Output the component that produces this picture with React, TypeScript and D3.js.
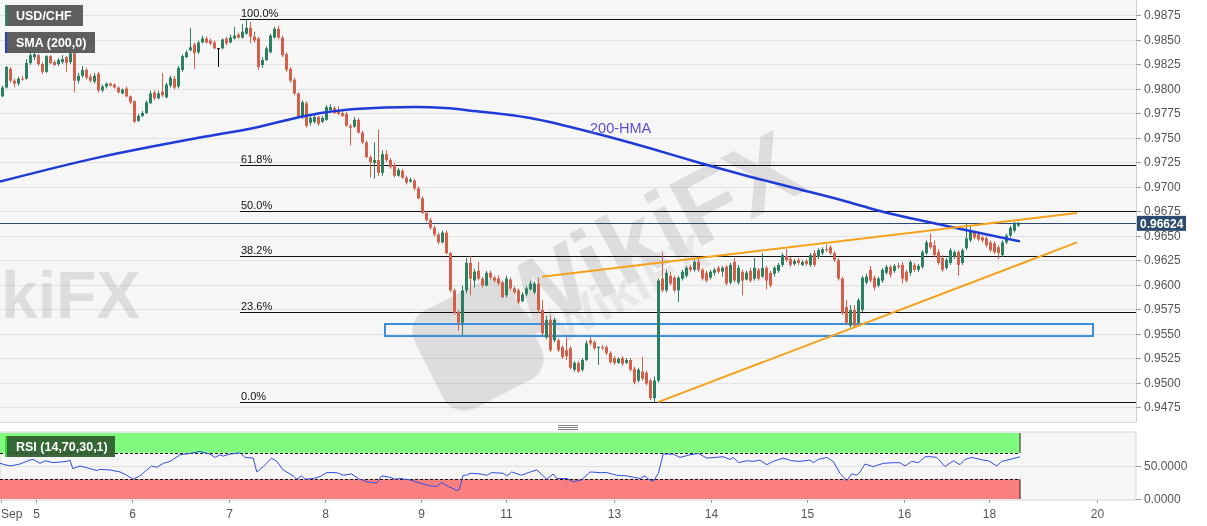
import React from "react";
import * as d3 from "d3";

// Hourly USD/CHF candles: [open, high, low, close]
const ohlc: number[][] = [
  [0.9792,0.9803,0.9791,0.9801],[0.9801,0.9823,0.9800,0.9822],[0.9820,0.9822,0.9806,0.9808],[0.9808,0.9810,0.9801,0.9805],
  [0.9805,0.9812,0.9803,0.9810],[0.9810,0.9813,0.9808,0.9809],[0.9810,0.9830,0.9809,0.9826],[0.9826,0.9836,0.9824,0.9834],
  [0.9832,0.9837,0.9829,0.9835],[0.9834,0.9835,0.9823,0.9825],[0.9825,0.9827,0.9815,0.9817],[0.9817,0.9834,0.9816,0.9833],
  [0.9833,0.9834,0.9825,0.9826],[0.9827,0.9829,0.9823,0.9824],[0.9825,0.9831,0.9823,0.9829],[0.9827,0.9834,0.9825,0.9830],
  [0.9832,0.9833,0.9817,0.9826],[0.9827,0.9839,0.9825,0.9836],[0.9836,0.9838,0.9796,0.9808],[0.9808,0.9816,0.9805,0.9813],
  [0.9813,0.9823,0.9811,0.9819],[0.9819,0.9821,0.9809,0.9811],[0.9812,0.9815,0.9806,0.9808],[0.9807,0.9816,0.9805,0.9813],
  [0.9815,0.9817,0.9796,0.9798],[0.9798,0.9804,0.9796,0.9802],[0.9802,0.9806,0.9800,0.9805],[0.9805,0.9806,0.9802,0.9803],
  [0.9804,0.9805,0.9800,0.9801],[0.9801,0.9802,0.9795,0.9796],[0.9795,0.9800,0.9794,0.9799],[0.9800,0.9802,0.9791,0.9792],
  [0.9792,0.9793,0.9784,0.9786],[0.9787,0.9788,0.9765,0.9766],[0.9767,0.9774,0.9766,0.9772],[0.9772,0.9777,0.9771,0.9775],
  [0.9775,0.9788,0.9774,0.9786],[0.9785,0.9798,0.9784,0.9795],[0.9796,0.9798,0.9788,0.9790],[0.9790,0.9798,0.9789,0.9795],
  [0.9797,0.9816,0.9791,0.9793],[0.9791,0.9806,0.9790,0.9804],[0.9803,0.9813,0.9801,0.9811],[0.9810,0.9813,0.9799,0.9801],
  [0.9802,0.9823,0.9800,0.9821],[0.9819,0.9835,0.9817,0.9833],[0.9832,0.9839,0.9831,0.9837],[0.9839,0.9862,0.9838,0.9842],
  [0.9845,0.9847,0.9820,0.9836],[0.9837,0.9849,0.9835,0.9847],[0.9847,0.9854,0.9846,0.9851],[0.9851,0.9853,0.9846,0.9847],
  [0.9849,0.9851,0.9844,0.9846],[0.9847,0.9849,0.9840,0.9841],[0.9841,0.9841,0.9822,0.9841],[0.9841,0.9851,0.9840,0.9850],
  [0.9851,0.9853,0.9844,0.9846],[0.9847,0.9855,0.9846,0.9852],[0.9851,0.9863,0.9850,0.9854],[0.9855,0.9857,0.9851,0.9852],
  [0.9852,0.9866,0.9851,0.9858],[0.9856,0.9871,0.9855,0.9862],[0.9862,0.9868,0.9846,0.9853],[0.9853,0.9858,0.9847,0.9849],
  [0.9851,0.9853,0.9819,0.9822],[0.9824,0.9832,0.9821,0.9829],[0.9829,0.9843,0.9828,0.9841],[0.9837,0.9856,0.9836,0.9854],
  [0.9852,0.9863,0.9851,0.9861],[0.9861,0.9864,0.9850,0.9852],[0.9852,0.9854,0.9832,0.9834],[0.9835,0.9837,0.9817,0.9819],
  [0.9820,0.9822,0.9806,0.9808],[0.9809,0.9811,0.9793,0.9795],[0.9795,0.9796,0.9770,0.9771],[0.9771,0.9788,0.9769,0.9786],
  [0.9785,0.9787,0.9760,0.9762],[0.9765,0.9772,0.9762,0.9770],[0.9766,0.9773,0.9764,0.9771],[0.9771,0.9772,0.9762,0.9764],
  [0.9766,0.9772,0.9765,0.9770],[0.9768,0.9783,0.9767,0.9781],[0.9778,0.9784,0.9776,0.9781],[0.9780,0.9782,0.9774,0.9775],
  [0.9778,0.9782,0.9773,0.9774],[0.9775,0.9777,0.9771,0.9772],[0.9774,0.9776,0.9761,0.9762],[0.9762,0.9764,0.9742,0.9760],
  [0.9761,0.9771,0.9760,0.9768],[0.9768,0.9770,0.9754,0.9755],[0.9755,0.9757,0.9743,0.9745],[0.9745,0.9747,0.9729,0.9730],
  [0.9730,0.9732,0.9709,0.9725],[0.9724,0.9745,0.9708,0.9727],[0.9727,0.9758,0.9711,0.9714],[0.9714,0.9737,0.9711,0.9733],
  [0.9733,0.9737,0.9725,0.9727],[0.9727,0.9729,0.9718,0.9720],[0.9722,0.9724,0.9709,0.9711],[0.9711,0.9719,0.9710,0.9717],
  [0.9716,0.9718,0.9708,0.9709],[0.9709,0.9711,0.9702,0.9704],[0.9705,0.9709,0.9704,0.9707],[0.9706,0.9708,0.9696,0.9698],
  [0.9698,0.9700,0.9687,0.9688],[0.9688,0.9690,0.9672,0.9673],[0.9673,0.9675,0.9664,0.9666],[0.9666,0.9668,0.9656,0.9658],
  [0.9658,0.9660,0.9649,0.9651],[0.9651,0.9653,0.9641,0.9643],[0.9643,0.9655,0.9642,0.9653],[0.9653,0.9655,0.9631,0.9632],
  [0.9632,0.9633,0.9592,0.9594],[0.9594,0.9596,0.9569,0.9571],[0.9572,0.9574,0.9553,0.9561],[0.9561,0.9599,0.9548,0.9594],
  [0.9594,0.9627,0.9591,0.9622],[0.9622,0.9629,0.9589,0.9606],[0.9604,0.9616,0.9597,0.9613],[0.9614,0.9623,0.9604,0.9606],
  [0.9606,0.9608,0.9597,0.9599],[0.9599,0.9614,0.9598,0.9612],[0.9612,0.9614,0.9605,0.9607],[0.9607,0.9609,0.9602,0.9604],
  [0.9606,0.9609,0.9599,0.9601],[0.9602,0.9604,0.9586,0.9587],[0.9589,0.9609,0.9587,0.9606],[0.9605,0.9607,0.9594,0.9596],
  [0.9596,0.9598,0.9590,0.9592],[0.9594,0.9596,0.9580,0.9582],[0.9583,0.9592,0.9582,0.9590],[0.9590,0.9598,0.9588,0.9596],
  [0.9595,0.9604,0.9594,0.9601],[0.9592,0.9603,0.9590,0.9601],[0.9601,0.9607,0.9571,0.9574],[0.9574,0.9584,0.9548,0.9550],
  [0.9546,0.9568,0.9544,0.9564],[0.9564,0.9569,0.9531,0.9533],[0.9543,0.9566,0.9541,0.9564],[0.9543,0.9545,0.9531,0.9533],
  [0.9536,0.9538,0.9524,0.9526],[0.9533,0.9546,0.9523,0.9527],[0.9535,0.9537,0.9513,0.9515],[0.9513,0.9522,0.9511,0.9520],
  [0.9520,0.9522,0.9510,0.9511],[0.9513,0.9525,0.9511,0.9523],[0.9523,0.9543,0.9522,0.9540],[0.9543,0.9546,0.9538,0.9540],
  [0.9541,0.9543,0.9533,0.9535],[0.9535,0.9537,0.9518,0.9536],[0.9536,0.9538,0.9533,0.9535],[0.9536,0.9538,0.9528,0.9530],
  [0.9530,0.9532,0.9519,0.9521],[0.9525,0.9527,0.9518,0.9520],[0.9520,0.9526,0.9519,0.9524],[0.9525,0.9527,0.9517,0.9519],
  [0.9520,0.9525,0.9519,0.9523],[0.9523,0.9525,0.9511,0.9513],[0.9514,0.9516,0.9498,0.9500],[0.9502,0.9515,0.9500,0.9513],
  [0.9511,0.9526,0.9502,0.9504],[0.9510,0.9512,0.9497,0.9499],[0.9502,0.9504,0.9482,0.9484],[0.9484,0.9506,0.9480,0.9502],
  [0.9502,0.9606,0.9500,0.9604],[0.9606,0.9633,0.9592,0.9594],[0.9594,0.9615,0.9592,0.9612],[0.9609,0.9613,0.9599,0.9601],
  [0.9607,0.9609,0.9592,0.9594],[0.9594,0.9609,0.9582,0.9607],[0.9606,0.9615,0.9604,0.9613],[0.9609,0.9619,0.9607,0.9617],
  [0.9618,0.9620,0.9613,0.9615],[0.9615,0.9625,0.9613,0.9623],[0.9623,0.9627,0.9613,0.9615],[0.9615,0.9617,0.9604,0.9606],
  [0.9612,0.9614,0.9602,0.9604],[0.9607,0.9615,0.9605,0.9613],[0.9612,0.9617,0.9609,0.9615],[0.9617,0.9619,0.9611,0.9613],
  [0.9613,0.9619,0.9608,0.9617],[0.9618,0.9620,0.9599,0.9601],[0.9602,0.9622,0.9600,0.9620],[0.9623,0.9627,0.9602,0.9604],
  [0.9602,0.9620,0.9600,0.9617],[0.9613,0.9615,0.9589,0.9604],[0.9605,0.9614,0.9604,0.9612],[0.9614,0.9617,0.9602,0.9604],
  [0.9606,0.9627,0.9604,0.9617],[0.9615,0.9617,0.9604,0.9606],[0.9608,0.9632,0.9607,0.9617],[0.9617,0.9619,0.9595,0.9604],
  [0.9612,0.9614,0.9597,0.9599],[0.9611,0.9619,0.9608,0.9617],[0.9614,0.9622,0.9612,0.9620],[0.9620,0.9632,0.9618,0.9630],
  [0.9629,0.9636,0.9623,0.9625],[0.9626,0.9628,0.9618,0.9620],[0.9621,0.9626,0.9619,0.9624],[0.9625,0.9627,0.9620,0.9622],
  [0.9620,0.9625,0.9619,0.9623],[0.9624,0.9626,0.9619,0.9621],[0.9620,0.9632,0.9618,0.9630],[0.9632,0.9635,0.9618,0.9620],
  [0.9628,0.9637,0.9626,0.9635],[0.9632,0.9638,0.9630,0.9636],[0.9636,0.9641,0.9633,0.9635],[0.9638,0.9640,0.9630,0.9632],
  [0.9632,0.9634,0.9623,0.9625],[0.9625,0.9627,0.9604,0.9606],[0.9606,0.9608,0.9569,0.9571],[0.9577,0.9584,0.9559,0.9561],
  [0.9558,0.9579,0.9556,0.9574],[0.9574,0.9579,0.9556,0.9558],[0.9561,0.9586,0.9558,0.9584],[0.9574,0.9609,0.9572,0.9607],
  [0.9602,0.9611,0.9600,0.9608],[0.9615,0.9619,0.9602,0.9604],[0.9607,0.9609,0.9594,0.9597],[0.9599,0.9608,0.9597,0.9606],
  [0.9604,0.9617,0.9602,0.9615],[0.9612,0.9620,0.9610,0.9618],[0.9618,0.9620,0.9607,0.9610],[0.9614,0.9621,0.9612,0.9619],
  [0.9619,0.9622,0.9616,0.9618],[0.9620,0.9623,0.9601,0.9606],[0.9613,0.9615,0.9602,0.9604],[0.9612,0.9625,0.9609,0.9623],
  [0.9620,0.9622,0.9613,0.9615],[0.9615,0.9621,0.9613,0.9619],[0.9618,0.9635,0.9616,0.9633],[0.9632,0.9645,0.9630,0.9643],
  [0.9643,0.9652,0.9636,0.9638],[0.9640,0.9645,0.9628,0.9630],[0.9633,0.9636,0.9620,0.9622],[0.9627,0.9630,0.9613,0.9615],
  [0.9617,0.9627,0.9615,0.9625],[0.9622,0.9637,0.9620,0.9635],[0.9628,0.9635,0.9626,0.9633],[0.9633,0.9635,0.9609,0.9620],
  [0.9622,0.9637,0.9620,0.9635],[0.9637,0.9663,0.9635,0.9647],[0.9645,0.9659,0.9643,0.9655],[0.9653,0.9655,0.9646,0.9648],
  [0.9651,0.9653,0.9644,0.9646],[0.9648,0.9650,0.9643,0.9645],[0.9647,0.9649,0.9638,0.9640],[0.9643,0.9645,0.9633,0.9635],
  [0.9642,0.9644,0.9631,0.9633],[0.9638,0.9640,0.9626,0.9632],[0.9630,0.9645,0.9628,0.9643],[0.9643,0.9652,0.9641,0.9650],
  [0.9650,0.9660,0.9648,0.9658],[0.9655,0.9664,0.9653,0.9662],[0.9660,0.9664,0.9659,0.9662],
];

// 200-HMA line: [candle index, price]
const hmaPoints: number[][] = [
  [-0.5,0.9705],[24.5,0.9730],[49.5,0.9750],[63.25,0.9760],[75.75,0.9772],[88.25,0.9779],[103.25,0.9781],
  [110.75,0.9780],[118.25,0.9777],[132,0.9770],[149.5,0.9753],[162,0.9739],[174.5,0.9724],[187,0.9710],
  [199.5,0.9697],[210,0.9686],[219.5,0.9675],[237,0.9659],[254.5,0.9644],
];

// RSI(14): [candle index, value]
const rsiPoints: number[][] = [
  [-0.5,54],[2,50],[4.5,53],[7,59],[7.8,60],[9.5,54],[10.8,58],[12.8,55],[16.2,57],[17,59],[17.7,46],[19.5,50],
  [22,46],[23.7,43],[24.5,45],[27,44],[29.5,41],[31.2,36],[32.8,30],[34.5,35],[36.2,44],[37.4,50],[38.7,48],
  [40.3,54],[42,57],[42.8,60],[44.5,67],[47,69],[49.5,72],[52,68],[53.3,63],[54.5,67],[55.3,65],[57,68],
  [59.5,70],[60.8,63],[62.8,62],[63.7,41],[65.3,49],[67.4,62],[68.7,57],[70.3,44],[72.8,35],[73.7,30],[74.9,35],
  [75.8,30],[77.8,31],[79.5,34],[81.2,40],[83.7,40],[85.3,36],[87.4,38],[89.1,31],[91.2,26],[93.7,24],[94.9,35],
  [97,33],[98.3,30],[99.5,31],[102,29],[104.5,24],[107,20],[108.7,19],[109.9,25],[111.6,19],[113.7,13],[114.3,14],
  [115.3,36],[116.2,36],[117,39],[119.5,38],[121.2,36],[122.4,40],[125.3,39],[126.2,35],[127.4,41],[129.9,36],
  [131.6,40],[133.7,44],[136.2,30],[137.8,38],[138.7,31],[141.2,31],[142.8,26],[144.9,29],[147,41],[149.5,40],
  [151.2,40],[153.7,36],[156.2,35],[157.8,33],[159.5,31],[160.8,35],[161.6,30],[162.8,27],[164.1,39],[165.3,68],
  [167.8,68],[169.5,63],[172,67],[174.1,69],[176.2,62],[180.3,64],[182,60],[182.8,63],[184.1,55],[186.2,58],
  [187.8,57],[189.5,59],[191.2,52],[192.8,57],[195.3,62],[197.4,58],[199.5,57],[202,59],[202.8,55],[204.1,60],
  [206.2,63],[207.8,57],[209.5,39],[211.2,28],[212.4,38],[213.7,36],[214.5,41],[215.75,53],[217.8,49],[220.3,54],
  [222.8,55],[224.5,55],[225.75,50],[227.4,57],[229.1,55],[230.75,64],[232.4,64],[233.7,63],[235.75,49],
  [237.8,58],[239.5,52],[240.75,60],[242.4,63],[245.3,59],[246.6,58],[248.7,50],[249.9,57],[252,60],[254.5,64],
];

const priceTicks = [0.9475,0.95,0.9525,0.955,0.9575,0.96,0.9625,0.965,0.9675,0.97,0.9725,0.975,0.9775,0.98,0.9825,0.985,0.9875];
const rsiTicks = [0, 50];
const rsiLevels = [70, 30];
const dayLabels = ["Sep","5","6","7","8","9","11","13","14","15","16","18","20"];
const dayIndex = [-0.25,8.5,32.5,56.75,80.75,104.75,126,153,177.25,201.25,225.5,246.75,273.75];

const fibHigh = 0.98709;
const fibLow = 0.94801;
const fibStartIndex = 59.5;
const fibLevels = [1, 0.618, 0.5, 0.382, 0.236, 0];
const fibLabels = ["100.0%","61.8%","50.0%","38.2%","23.6%","0.0%"];

const upperTrend: number[][] = [[135,0.9608],[268.75,0.9673]];
const lowerTrend: number[][] = [[164,0.9480],[268.75,0.9643]];
const zoneIndex = [95.75, 272.75];
const zonePrice = [0.95474, 0.95597];
const lastPrice = 0.96624;

const W = 1207, H = 526;
const PR = 1136;           // plot right edge
const MAIN_B = 422;        // main panel bottom
const RSI_T = 432, RSI_B = 500;
const FONT = "Arial, 'Liberation Sans', Helvetica, sans-serif";
const GREEN = "#2b8062";
const RED = "#d4604b";

export default function App() {
  const x = d3.scaleLinear().domain([-0.5, 283.5]).range([0, PR]);
  const y = d3.scaleLinear().domain([0.9475, 0.9875]).range([407, 15]);
  const ry = d3.scaleLinear().domain([0, 100]).range([499, 433]);

  const hmaLine = d3.line<number[]>().x(d => x(d[0])).y(d => y(d[1])).curve(d3.curveMonotoneX);
  const rsiLine = d3.line<number[]>().x(d => x(d[0])).y(d => ry(d[1]));
  const trend = d3.line<number[]>().x(d => x(d[0])).y(d => y(d[1]));

  const lastIdx = ohlc.length - 1 + 0.5;
  const zoneEnd = x(lastIdx);

  return (
    <svg width={W} height={H} style={{ position: "absolute", left: 0, top: 0, background: "#fff" }} fontFamily={FONT}>
      <defs>
        <clipPath id="mainClip"><rect x={0} y={0} width={PR} height={MAIN_B} /></clipPath>
        <clipPath id="rsiClip"><rect x={0} y={RSI_T} width={PR} height={RSI_B - RSI_T} /></clipPath>
      </defs>

      {/* main panel background */}
      <rect x={0} y={0} width={PR} height={MAIN_B} fill="#f6f6f6" />
      {priceTicks.map(t => (
        <line key={t} x1={0} x2={PR} y1={Math.round(y(t)) + 0.5} y2={Math.round(y(t)) + 0.5} stroke="#e2e2e2" />
      ))}

      {/* watermark */}
      <g clipPath="url(#mainClip)" opacity={0.18} fill="#6f6f6f" fontWeight="bold">
        <rect x={-55} y={-55} width={110} height={110} rx={24} transform="translate(478,345) rotate(-27)" />
        <text transform="translate(515,345) rotate(-28)" fontSize={100}>WikiFX</text>
        <text transform="translate(560,345) rotate(-28)" fontSize={52} opacity={0.6}>WikiFX</text>
        <text x={1} y={318} fontSize={66}>kiFX</text>
      </g>

      <g clipPath="url(#mainClip)">
        {/* fibonacci */}
        {fibLevels.map((lv, k) => {
          const py = Math.round(y(fibLow + lv * (fibHigh - fibLow))) + 0.5;
          return (
            <g key={lv}>
              <line x1={x(fibStartIndex)} x2={PR} y1={py} y2={py} stroke="#111" strokeWidth={1} />
              <text x={x(fibStartIndex) + 1} y={py - 2.5} fontSize={11} fill="#111">{fibLabels[k]}</text>
            </g>
          );
        })}

        {/* current price line */}
        <line x1={0} x2={PR} y1={Math.round(y(lastPrice)) + 0.5} y2={Math.round(y(lastPrice)) + 0.5} stroke="#2c4a6e" />

        {/* support zone */}
        <rect x={x(zoneIndex[0])} y={y(zonePrice[1])} width={x(zoneIndex[1]) - x(zoneIndex[0])}
          height={y(zonePrice[0]) - y(zonePrice[1])} fill="none" stroke="#3b8fd9" strokeWidth={2} />

        {/* candles */}
        {ohlc.map(([o, h, l, c], i) => {
          const cx = Math.round(x(i)) + 0.5;
          const col = c > o ? GREEN : c < o ? RED : "#000";
          const top = y(Math.max(o, c));
          const bot = y(Math.min(o, c));
          return (
            <g key={i}>
              <line x1={cx} x2={cx} y1={y(h)} y2={y(l)} stroke={col} strokeWidth={1} />
              <rect x={cx - 1.5} y={top} width={3} height={Math.max(1, bot - top)} fill={col} />
            </g>
          );
        })}

        {/* 200-HMA */}
        <path d={hmaLine(hmaPoints) || ""} fill="none" stroke="#1f3bd8" strokeWidth={2.5} />
        <text x={590} y={133} fontSize={14.5} fill="#5a4fd0">200-HMA</text>

        {/* trend lines */}
        <path d={trend(upperTrend) || ""} fill="none" stroke="#f4a21c" strokeWidth={2} />
        <path d={trend(lowerTrend) || ""} fill="none" stroke="#f4a21c" strokeWidth={2} />
      </g>

      {/* main panel border */}
      <line x1={PR + 0.5} x2={PR + 0.5} y1={0} y2={MAIN_B} stroke="#cfcfcf" />
      <line x1={0} x2={PR} y1={MAIN_B + 0.5} y2={MAIN_B + 0.5} stroke="#d8d8d8" />

      {/* price axis */}
      {priceTicks.map(t => (
        <g key={t}>
          <line x1={PR} x2={PR + 5} y1={Math.round(y(t)) + 0.5} y2={Math.round(y(t)) + 0.5} stroke="#999" />
          <text x={PR + 8} y={y(t) + 4} fontSize={12} fill="#555">{t.toFixed(4)}</text>
        </g>
      ))}
      <rect x={PR + 1} y={y(lastPrice) - 7.5} width={49} height={15} fill="#2c4a6e" />
      <text x={PR + 4} y={y(lastPrice) + 4.5} fontSize={12} fontWeight="bold" fill="#fff">{lastPrice.toFixed(5)}</text>

      {/* panel splitter handle */}
      {[425, 427, 429].map(v => (
        <line key={v} x1={558} x2={578} y1={v + 0.5} y2={v + 0.5} stroke="#808080" />
      ))}

      {/* RSI panel */}
      <rect x={0} y={RSI_T} width={PR} height={RSI_B - RSI_T} fill="#f6f6f6" stroke="#d6d6d6" />
      <line x1={0} x2={PR} y1={Math.round(ry(50)) + 0.5} y2={Math.round(ry(50)) + 0.5} stroke="#e0e0e0" />
      <g clipPath="url(#rsiClip)">
        <rect x={0} y={ry(100)} width={zoneEnd} height={ry(rsiLevels[0]) - ry(100)} fill="#80fb80" />
        <rect x={0} y={ry(rsiLevels[1])} width={zoneEnd} height={ry(0) - ry(rsiLevels[1])} fill="#fc7f7f" />
        {rsiLevels.map(v => (
          <line key={v} x1={0} x2={zoneEnd} y1={Math.round(ry(v)) + 0.5} y2={Math.round(ry(v)) + 0.5}
            stroke="#111" strokeDasharray="3,2" />
        ))}
        <line x1={zoneEnd} x2={zoneEnd} y1={ry(100)} y2={ry(rsiLevels[0])} stroke="#222" />
        <line x1={zoneEnd} x2={zoneEnd} y1={ry(rsiLevels[1])} y2={ry(0)} stroke="#222" />
        <path d={rsiLine(rsiPoints) || ""} fill="none" stroke="#2f4fe0" strokeWidth={1} />
      </g>
      {rsiTicks.map(t => (
        <g key={t}>
          <line x1={PR} x2={PR + 5} y1={Math.round(ry(t)) + 0.5} y2={Math.round(ry(t)) + 0.5} stroke="#999" />
          <text x={PR + 8} y={ry(t) + 4} fontSize={12} fill="#555">{t.toFixed(4)}</text>
        </g>
      ))}

      {/* time axis */}
      {dayLabels.map((lab, k) => {
        const tx = Math.round(x(dayIndex[k])) + 0.5;
        return (
          <g key={lab}>
            <line x1={tx} x2={tx} y1={RSI_B} y2={RSI_B + 3} stroke="#999" />
            <text x={k === 0 ? 1 : tx} y={518} fontSize={12} fill="#555" textAnchor={k === 0 ? "start" : "middle"}>{lab}</text>
          </g>
        );
      })}

      {/* legends */}
      <g fontWeight="bold" fontSize={12.5} fill="#fff">
        <rect x={5} y={5} width={78} height={21} fill="#5e5e5e" />
        <rect x={5} y={5} width={2} height={21} fill="#2b8a6a" />
        <text x={16} y={20}>USD/CHF</text>
        <rect x={5} y={32} width={90} height={21} fill="#5e5e5e" />
        <rect x={5} y={32} width={2} height={21} fill="#1f3bd8" />
        <text x={16} y={47}>SMA (200,0)</text>
        <rect x={5} y={436} width={110} height={21} fill="#2f5a2f" opacity={0.92} />
        <rect x={5} y={436} width={2} height={21} fill="#33dd33" />
        <text x={16} y={451}>RSI (14,70,30,1)</text>
      </g>
    </svg>
  );
}
